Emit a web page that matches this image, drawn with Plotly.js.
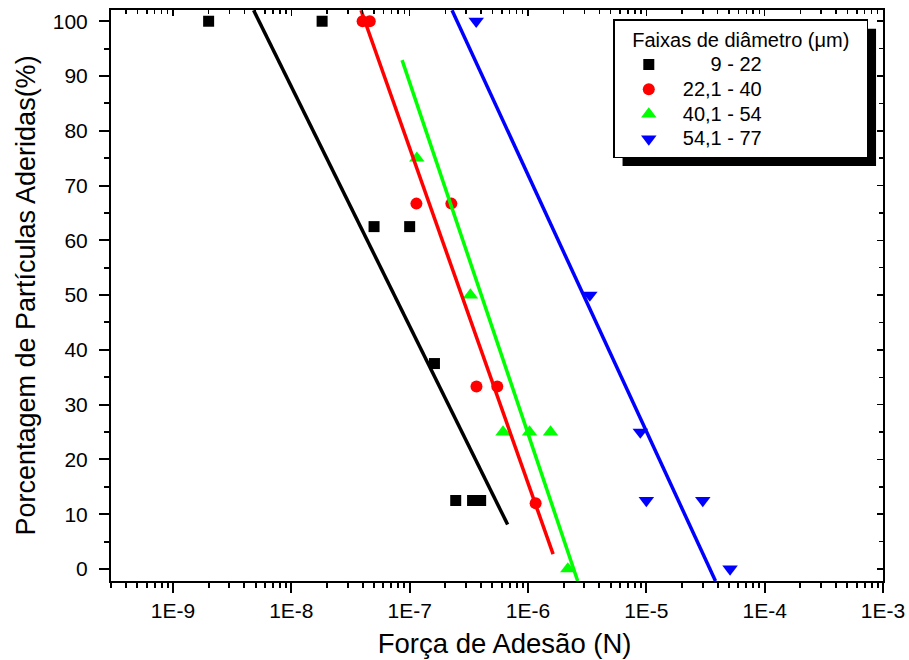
<!DOCTYPE html>
<html>
<head>
<meta charset="utf-8">
<script src="https://cdn.plot.ly/plotly-3.0.1.min.js"></script>
<style>html,body{margin:0;padding:0;background:#fff;}#chart{width:909px;height:660px;}</style>
</head>
<body>
<div id="chart"></div>
<script>
// ---- data ----
const seriesNames = ["\u2007\u2007\u20089 - 22", "22,1 - 40", "40,1 - 54", "54,1 - 77"];
const seriesColors = ["#000000", "#ff0000", "#00ff00", "#0000ff"];
const seriesSymbols = ["square", "circle", "triangle-up", "triangle-down"];

const blackX = [2.0e-9, 1.82e-8, 5.0e-8, 1.0e-7, 1.62e-7, 2.45e-7, 3.4e-7, 3.98e-7];
const blackY = [100, 100, 62.5, 62.5, 37.5, 12.5, 12.5, 12.5];

const redX = [4.0e-8, 4.6e-8, 1.14e-7, 2.25e-7, 3.67e-7, 5.5e-7, 1.16e-6];
const redY = [100, 100, 66.7, 66.7, 33.3, 33.3, 12];

const greenX = [1.15e-7, 3.26e-7, 6.15e-7, 1.03e-6, 1.55e-6, 2.17e-6];
const greenY = [75, 50, 25, 25, 25, 0];

const blueX = [3.65e-7, 3.33e-6, 8.9e-6, 1.0e-5, 3.0e-5, 5.1e-5];
const blueY = [100, 50, 25, 12.5, 12.5, 0];

// fitted lines (end points)
const blackFitX = [4.8e-9, 6.73e-7];
const blackFitY = [102, 8.1];
const redFitX = [3.88e-8, 1.63e-6];
const redFitY = [102, 2.7];
const greenFitX = [8.63e-8, 2.63e-6];
const greenFitY = [92.9, -2.2];
const blueFitX = [2.28e-7, 3.84e-5];
const blueFitY = [102, -2.2];

const xTickVals = [1e-9, 1e-8, 1e-7, 1e-6, 1e-5, 1e-4, 1e-3];
const xTickText = ["1E-9", "1E-8", "1E-7", "1E-6", "1E-5", "1E-4", "1E-3"];
const yTickVals = [0, 10, 20, 30, 40, 50, 60, 70, 80, 90, 100];
const yTickText = ["0", "10", "20", "30", "40", "50", "60", "70", "80", "90", "100"];

const xTitle = "Força de Adesão (N)";
const yTitle = "Porcentagem de Partículas Aderidas(%)";
const legendTitle = "Faixas de diâmetro (μm)";

// ---- minor tick positions (2..9 within each decade) ----
const xMinor = [];
for (let e = -10; e <= -4; e++) {
  for (let m = 2; m <= 9; m++) xMinor.push(m * Math.pow(10, e));
}

const FONT = "Liberation Sans, Arial, sans-serif";
const xRange = [-9.524, -3.0];
const yRange = [-2.2, 102.05];

const markerData = [[blackX, blackY], [redX, redY], [greenX, greenY], [blueX, blueY]];
const fitData = [[blackFitX, blackFitY], [redFitX, redFitY], [greenFitX, greenFitY], [blueFitX, blueFitY]];
const markerSizes = [11, 12, 13.5, 13.5];

const traces = [];
markerData.forEach((d, i) => {
  traces.push({
    type: "scatter", mode: "markers", x: d[0], y: d[1],
    name: '<span style="font-size:20px">' + seriesNames[i] + '</span>',
    marker: {color: seriesColors[i], symbol: seriesSymbols[i], size: markerSizes[i], line: {width: 0}},
    hoverinfo: "x+y"
  });
});
fitData.forEach((d, i) => {
  traces.push({
    type: "scatter", mode: "lines", x: d[0], y: d[1], showlegend: false,
    line: {color: seriesColors[i], width: 3.5}, hoverinfo: "skip"
  });
});
// empty trace to carry the mirrored (inside-tick) axes
traces.push({type: "scatter", mode: "markers", x: [], y: [], xaxis: "x2", yaxis: "y2", showlegend: false, hoverinfo: "skip"});

const L = 111, R = 26, T = 10, B = 78.5, W = 909, H = 660;
const pw = W - L - R, ph = H - T - B;
const px = v => (v - L) / pw;
const py = v => (H - B - v) / ph;
const SHADOW = 8.5;

const pad = "\u00a0\u00a0\u2009";

const layout = {
  width: W, height: H,
  margin: {l: L, r: R, t: T, b: B},
  paper_bgcolor: "#ffffff", plot_bgcolor: "#ffffff",
  font: {family: FONT, color: "#000000", size: 20},
  showlegend: true,
  legend: {
    x: px(613.3), y: py(19.5), xanchor: "left", yanchor: "top",
    bgcolor: "#ffffff", bordercolor: "#000000", borderwidth: 1.5,
    font: {family: FONT, size: 16.8, color: "#000000"},
    title: {text: pad + legendTitle + pad, side: "top center", font: {family: FONT, size: 20}},
    itemwidth: 58, tracegroupgap: 0
  },
  xaxis: {
    type: "log", range: xRange, showgrid: false, zeroline: false,
    showline: true, linecolor: "#000", linewidth: 2, mirror: true,
    tickmode: "array", tickvals: xTickVals, ticktext: xTickText,
    ticks: "outside", ticklen: 10, tickwidth: 2, tickcolor: "#000",
    tickfont: {family: FONT, size: 21},
    minor: {tickmode: "array", tickvals: xMinor, ticks: "outside", ticklen: 5, tickwidth: 2, tickcolor: "#000", showgrid: false},
    title: {text: '<span style="font-size:27.5px">\u2007' + xTitle + '</span>', font: {family: FONT, size: 27.5}, standoff: 13},
    automargin: false
  },
  yaxis: {
    range: yRange, showgrid: false, zeroline: false,
    showline: true, linecolor: "#000", linewidth: 2, mirror: true,
    tickmode: "array", tickvals: yTickVals, ticktext: yTickText,
    ticks: "outside", ticklen: 10, tickwidth: 2, tickcolor: "#000",
    ticklabelstandoff: 7,
    tickfont: {family: FONT, size: 21},
    minor: {tick0: 0, dtick: 5, ticks: "outside", ticklen: 5, tickwidth: 2, tickcolor: "#000", showgrid: false},
    title: {text: yTitle, font: {family: FONT, size: 27}, standoff: 9},
    automargin: false
  },
  xaxis2: {
    type: "log", range: xRange, overlaying: "x", side: "top", anchor: "y",
    showgrid: false, zeroline: false, showline: false, showticklabels: false,
    tickmode: "array", tickvals: xTickVals,
    ticks: "inside", ticklen: 6, tickwidth: 1.5, tickcolor: "#000",
    minor: {tickmode: "array", tickvals: xMinor, ticks: "inside", ticklen: 4, tickwidth: 1.5, tickcolor: "#000", showgrid: false}
  },
  yaxis2: {
    range: yRange, overlaying: "y", side: "right", anchor: "x",
    showgrid: false, zeroline: false, showline: false, showticklabels: false,
    tickmode: "array", tickvals: yTickVals,
    ticks: "inside", ticklen: 6, tickwidth: 1.5, tickcolor: "#000",
    minor: {tick0: 0, dtick: 5, ticks: "inside", ticklen: 4, tickwidth: 1.5, tickcolor: "#000", showgrid: false}
  },
  shapes: [{
    type: "rect", xref: "paper", yref: "paper", layer: "above",
    x0: px(621.7), x1: px(874), y0: py(162.7), y1: py(31.7),
    fillcolor: "#000000", line: {width: 0}
  }]
};

Plotly.newPlot("chart", traces, layout, {displayModeBar: false, staticPlot: true}).then(gd => {
  // place the drop shadow exactly behind the drawn legend box
  const bg = gd.querySelector(".legend rect.bg");
  if (!bg) return;
  const r = bg.getBoundingClientRect();
  const c = gd.getBoundingClientRect();
  const left = r.left - c.left, right = r.right - c.left, top = r.top - c.top, bottom = r.bottom - c.top;
  return Plotly.relayout(gd, {
    "shapes[0].x0": px(left + SHADOW), "shapes[0].x1": px(right + SHADOW),
    "shapes[0].y0": py(bottom + SHADOW), "shapes[0].y1": py(top + SHADOW)
  });
});
</script>
</body>
</html>
